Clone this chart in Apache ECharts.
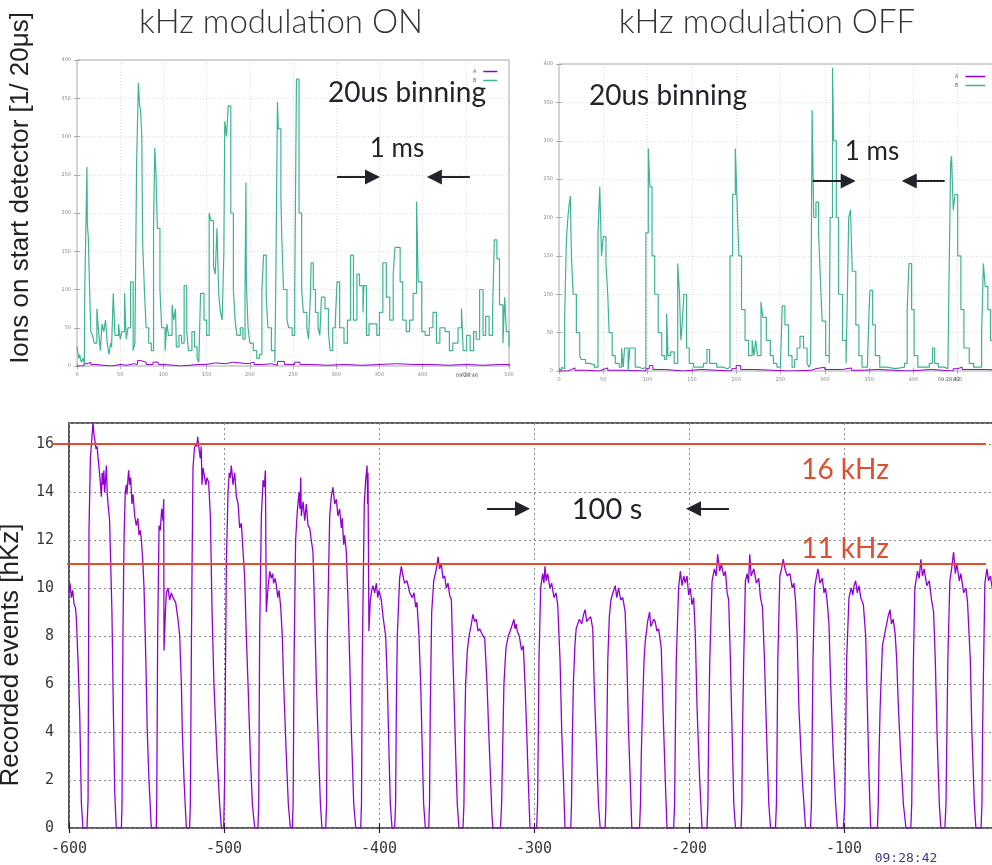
<!DOCTYPE html>
<html><head><meta charset="utf-8">
<script src="https://cdn.jsdelivr.net/npm/echarts@6.0.0/dist/echarts.min.js"></script>
<style>html,body{margin:0;padding:0;background:#fff}#c{width:992px;height:865px}</style>
</head><body><div id="c"></div>
<script>
// ---------- DATA ----------
// Top plots: x = bin number (20 us bins), y = ions per bin
const topLeftA = [[0,0],[8,3],[12,5],[16,2],[22,1],[30,0],[40,2],[50,1],[58,3],[66,2],[70,7],[74,5],[80,2],[88,5],[94,2],[100,1],[112,0],[120,2],[140,2],[150,4],[160,3],[172,5],[180,3],[198,5],[205,2],[215,3],[225,1],[232,6],[240,2],[252,5],[258,2],[270,1],[290,2],[310,1],[330,2],[350,3],[370,2],[390,2],[410,1],[430,2],[450,1],[470,2],[490,2],[500,0]];
const topLeftB = [[0,25],[2,10],[3,15],[5,5],[7,10],[8.5,3],[9,100],[10,165],[11.5,260],[12,185],[13,170],[14.6,100],[16,45],[18,40],[20,30],[23,75],[25,45],[27,20],[29,55],[31,45],[33,60],[35,30],[37,15],[39,30],[40,25],[42,95],[44,40],[48,55],[50,35],[52,45],[55,95],[57,35],[59,50],[62,110],[65,20],[67,30],[69,265],[71,370],[72.5,340],[73.5,335],[75,300],[76,160],[78,100],[80,50],[83,30],[86,20],[88.6,180],[90,285],[91.5,250],[93,180],[96,100],[98,50],[102,20],[104,55],[106,40],[110,80],[112,60],[114,75],[115,25],[118,40],[121,30],[124,105],[127,45],[129,20],[133,45],[136,25],[139,10],[141,5],[143,95],[147,60],[150,40],[153,200],[155,190],[158,130],[160,120],[162,180],[164,95],[166,70],[168,60],[170,150],[171,320],[173,300],[175,340],[178,200],[181,100],[183,60],[185,40],[189,50],[192,35],[194.5,110],[195.5,240],[196,110],[198,50],[200,30],[204,20],[208,10],[211,15],[214,100],[216,145],[219,90],[221,50],[225,20],[229,5],[230,100],[232,345],[233,310],[236,220],[237,170],[239,100],[243,60],[245,50],[249,40],[252,100],[254,375],[257,200],[260,100],[262,70],[266,50],[268,35],[270,90],[271,135],[273.5,100],[276,70],[279,50],[281,40],[283,90],[287,75],[291,45],[293,20],[296,50],[299,60],[301,110],[304,50],[309,30],[313,60],[316.6,145],[320,60],[324,120],[327,105],[331,70],[332,105],[335,40],[338,55],[343,55],[347,40],[350,70],[354,135],[358,90],[362,60],[366,120],[368,155],[374,110],[377,60],[381,45],[385,60],[389,95],[393,215],[395,110],[399,45],[403,40],[408,50],[412,70],[416,30],[420,50],[426,45],[431,20],[435,30],[441,50],[445,75],[447,20],[451,40],[455,20],[459,45],[462,35],[466,100],[470,40],[473,65],[477,40],[481,70],[483,165],[486,140],[489,80],[493,30],[495,90],[497,45],[500,25]];
const topRightA = [[0,0],[10,2],[14,4],[18,1],[30,0],[45,2],[50,4],[55,1],[70,0],[98,3],[102,7],[106,2],[120,0],[140,2],[160,0],[195,3],[200,7],[205,2],[220,0],[260,1],[285,3],[290,5],[300,2],[320,4],[330,1],[345,2],[360,0],[395,2],[420,0],[445,3],[450,5],[455,2],[480,1],[500,0]];
const topRightB = [[0,2],[3,5],[5,3],[6.4,70],[8.3,170],[10,200],[11.3,215],[12.8,228],[14,150],[16,100],[19.6,50],[23.4,20],[25,15],[30,10],[35,8],[40,5],[44,180],[46,240],[48,150],[50,175],[53,140],[55,100],[56.6,50],[60,20],[63.5,10],[68,5],[70.6,30],[72.5,5],[74,30],[76,30],[78,0],[80,30],[82,30],[86,5],[90,3],[95,5],[98,180],[100.8,290],[102.6,240],[105,150],[108,100],[112,50],[116,20],[119,15],[121.5,75],[123,20],[126,25],[130,10],[134,140],[136,100],[137.5,40],[139,60],[141,100],[144,30],[147,10],[152,5],[159,5],[163,10],[167,28],[170,10],[178,5],[185,3],[190,5],[193,150],[196,230],[199,290],[201,220],[203,150],[206,80],[210,40],[214,20],[218,40],[220,20],[222,40],[224,20],[228,90],[230,70],[234,40],[238.5,20],[242,10],[246,5],[250,10],[252,85],[255,60],[259,20],[263,5],[266,15],[268.7,30],[272,45],[276,30],[280,10],[282,5],[284,10],[285.7,340],[287.5,200],[290,220],[293,180],[295,120],[297,65],[301,20],[305,10],[306,200],[308.7,395],[310,300],[313,200],[315.5,100],[320,40],[324,10],[325.5,100],[327,200],[329,210],[331,130],[335,60],[338.5,20],[342,5],[348,5],[350,80],[351,105],[354,60],[357,20],[362,5],[370,3],[380,5],[390,10],[393,80],[395,140],[398,80],[400.8,20],[405,5],[413,5],[418,10],[421.5,30],[424,10],[428,5],[435,3],[439,10],[440,100],[442,270],[443,280],[445,210],[447,230],[450,150],[453.6,80],[457,30],[463,10],[468,5],[474,5],[477,50],[479,140],[481,110],[484,80],[487,40],[490,20],[495,15],[500,10]];

// Bottom plot: x = time [s], y = recorded events
const recordedEvents = [
[-600,9.8],[-599.3,10.2],[-598.5,9.6],[-597.6,9.9],[-596.7,9.3],[-595.9,9.2],[-595.3,8.8],[-594.2,7],[-593.1,4.8],[-592,1],[-591,0],[-588.4,0],
[-587.7,1.2],[-587.1,12.4],[-586.2,15.4],[-585.3,16.2],[-584.5,16.9],[-583.9,16.4],[-583.4,16.2],[-582.6,15.8],[-581.9,15.9],[-581.2,15.4],[-580.6,15],[-579.8,14.4],[-579.1,13.8],[-578.6,14.8],[-578.1,14.3],[-577.5,14.9],[-577,14],[-576.4,14.5],[-575.9,15.1],[-575.3,13.9],[-574.8,13.5],[-573.8,12.8],[-573.1,11],[-572.3,9],[-571.4,5],[-570.5,1.5],[-569.5,0],[-566.2,0],
[-565.8,1],[-565.2,8],[-564.5,12],[-563.7,14],[-563,14.3],[-562.6,13.9],[-561.9,14.6],[-561.5,14.9],[-560.9,14.3],[-560.2,14.6],[-559.4,13.5],[-558.7,13.9],[-557.6,13],[-556.6,12.6],[-555.6,12.9],[-554.8,12.2],[-554,12.4],[-553.3,12],[-552.3,11],[-551.6,10],[-550.8,8],[-550.1,6],[-549.5,4],[-548.4,2],[-546.9,0],[-543.7,0],
[-543.4,1],[-542.8,8],[-541.9,12.6],[-541.1,12.4],[-540.2,13.3],[-539.4,12.8],[-538.9,13.7],[-538.7,7.4],[-537.8,9],[-537.2,9.8],[-536.1,10],[-535.1,9.5],[-534,9.8],[-532.9,9.6],[-531.2,9.4],[-529.7,8.7],[-528.6,8],[-527.5,6],[-526.9,4],[-525.8,2],[-524.3,0],[-522.2,0],
[-521.7,1],[-521.1,7],[-520.6,11],[-520,15],[-519.1,15.8],[-518.3,16],[-517.5,15.9],[-517,16.3],[-516.1,15.8],[-515.3,15.4],[-514.7,15.9],[-514.2,14.3],[-513.5,15],[-512.5,14.6],[-511.7,14.3],[-511,14.6],[-509.9,14.4],[-508.8,13],[-507.7,9],[-506.5,6],[-504.5,3],[-502.8,1],[-501.7,0],[-500.2,0],
[-499.6,2],[-498.5,11],[-497.4,14],[-496.6,14.8],[-495.9,14.6],[-495.3,15.1],[-494.8,14.8],[-494.2,14.3],[-493.1,14.8],[-492,13.8],[-490.9,13.5],[-489.9,12.5],[-488.8,12.7],[-487.7,11.5],[-486.7,10.5],[-485.6,8],[-484.5,6],[-483,3],[-481.7,1],[-480.2,0],[-478.1,0],
[-477.6,1],[-477,8],[-475.9,13],[-474.8,14.5],[-474,14.2],[-473.3,14.9],[-472.7,9],[-471.6,10],[-470.5,10.7],[-469.5,10.4],[-468.6,10.6],[-468,10.2],[-467,10.4],[-466.2,10.1],[-465.3,9.6],[-464.5,9.9],[-463.4,9.2],[-462.4,8],[-461.5,6],[-459.8,3],[-458.5,1],[-457.2,0],[-455.9,0],
[-455.4,1],[-454.8,7],[-453.8,12],[-452.7,13.2],[-451.6,14],[-451,13.3],[-450.5,14.6],[-450.1,13],[-449,13.6],[-447.9,12.8],[-446.9,13.5],[-445.8,12.6],[-444.7,12.5],[-443.7,12],[-442.6,11.5],[-441.5,9],[-440.4,6],[-438.9,3],[-437.8,1],[-436.8,0],[-434.4,0],
[-433.8,1],[-433.3,8],[-431.8,13],[-430.8,13.8],[-429.7,14.2],[-428.6,13.5],[-427.5,13.7],[-426.5,13],[-425.4,13.3],[-424.3,12.5],[-423.7,12.9],[-422.8,11.8],[-422.2,12.2],[-421.1,11.5],[-420,9.5],[-418.9,7],[-417.8,4],[-416.3,1],[-415,0],[-411.8,0],
[-411.3,1],[-410.8,7],[-409.5,13.5],[-408.6,14.5],[-407.7,15.1],[-407.3,13.5],[-407.1,14.8],[-406.5,8.2],[-405.6,9.5],[-404.7,9.9],[-403.9,10.1],[-402.8,9.8],[-401.7,10.2],[-400.8,9.6],[-400,9.9],[-398.5,9.5],[-397.4,8.8],[-395.7,8],[-394.6,6],[-393.5,3],[-392.7,1],[-391.6,0],[-389.9,0],
[-389.3,1],[-388.8,5],[-388.2,8],[-386.7,10.4],[-385.6,10.9],[-384.5,10.5],[-383.5,10.2],[-381.9,10.3],[-380.2,9.8],[-378.5,9.6],[-377.4,9.8],[-376.3,9.2],[-375.5,9.4],[-374.2,8],[-373.1,6],[-372,3],[-371.2,1],[-370.1,0],[-367.9,0],
[-367.4,1],[-366.9,5],[-366,9],[-364.7,10.3],[-363,10.8],[-361.9,11.3],[-360.9,10.8],[-359.8,11],[-358.7,10.4],[-357.6,10.5],[-356.6,10],[-355.5,10.2],[-354.4,9.7],[-353.3,9.5],[-352.7,8],[-351.8,6],[-350.5,3],[-349.5,1],[-348.4,0],[-345.8,0],
[-345.2,1],[-344.7,4],[-344.1,6],[-343,7.4],[-341.9,8],[-340.4,8.5],[-339.4,8.9],[-338.3,8.6],[-337.2,8.7],[-336.1,8.2],[-335.1,8.3],[-332.9,8],[-331.8,7.9],[-330.3,6],[-329.2,4],[-328,2],[-327.1,0.5],[-326.5,0],[-321.6,0],
[-320.9,1],[-320.3,3],[-319.4,6],[-318.1,7.5],[-316.6,8],[-315.4,8.2],[-314.4,8.4],[-312.9,8.7],[-312.3,8.3],[-311.5,8.5],[-310.8,8.2],[-309.5,8],[-308,7.4],[-306.9,7.6],[-305.8,6],[-304.7,4],[-303.7,2],[-302.6,0],[-298.3,0],
[-297.7,1],[-297.2,4],[-296.8,7],[-295.7,10],[-294.4,10.6],[-293.6,10.2],[-292.9,10.9],[-292.2,10.3],[-291.2,10.6],[-289.7,10],[-288.6,10.2],[-287.1,9.6],[-285.8,9.8],[-284.7,9.3],[-283.2,7],[-282.1,4],[-281,2],[-280,0],[-276.3,0],
[-275.8,1],[-275.2,4],[-274.6,6],[-273.6,7.6],[-272.8,8.3],[-271.8,8.5],[-270.7,8.7],[-269.2,8.5],[-268,8.9],[-267,9.1],[-266,8.6],[-264.9,8.7],[-263.4,8.8],[-262.1,8.3],[-261.2,6],[-259.5,3],[-258.4,1],[-257.3,0],[-254.1,0],
[-253.6,1],[-253,4],[-252.4,7],[-251.4,8.8],[-250.4,9.5],[-249.1,9.8],[-247.6,10.1],[-246.6,9.6],[-245.5,10],[-244,9.5],[-242.7,9.6],[-241.2,9],[-240.1,7],[-239,4],[-237.9,2],[-236.9,0],[-231.9,0],
[-231.3,1],[-230.8,3],[-230,5],[-229,7],[-228.2,7.8],[-227.4,8.2],[-226.7,8.6],[-225.4,9],[-224.7,8.4],[-223.9,8.5],[-222.8,8.7],[-221.8,8.6],[-220.7,8.2],[-219.6,8.3],[-217.9,7.5],[-216.8,5],[-215.3,2],[-214.2,0],[-209.9,0],
[-209.3,1],[-208.8,4],[-208.2,7],[-206.7,10],[-205.6,10.7],[-204.5,10.1],[-203.4,10.5],[-202.4,10.2],[-201.3,10.5],[-200.2,9.7],[-199.1,10],[-198.1,9.3],[-197,9.6],[-195.9,8],[-194.8,5],[-193.1,2],[-191.6,0],[-188.4,0],
[-187.8,1],[-187.3,4],[-186.6,7],[-185.1,10.3],[-183.6,10.8],[-182.5,10.5],[-181.5,11.4],[-180.2,10.7],[-179.1,11],[-177.6,10.5],[-176.5,10.7],[-175.4,9.8],[-174.4,9.5],[-173.3,7],[-172.2,4],[-171.1,1],[-170,0],[-166.4,0],
[-165.9,1],[-165.5,4],[-164.7,7],[-163.6,10.3],[-162.5,10.6],[-161.6,10.2],[-160.8,11.4],[-159.9,10.5],[-158.2,10.8],[-156.5,10.2],[-155,10.4],[-153.9,9.6],[-152.6,9.2],[-151.3,7],[-150,4],[-148.5,1],[-147.4,0],[-144.2,0],
[-143.6,1],[-143.1,4],[-142.7,7],[-141.4,10.5],[-140.3,10.8],[-139.2,11.2],[-138.1,10.8],[-136.6,10.5],[-134.9,10.6],[-133.4,10],[-132.3,10.2],[-131.3,9.5],[-130.2,8],[-129.1,5],[-126.9,2],[-124.8,0],[-121.6,0],
[-121,1],[-120.5,4],[-120,7],[-119,10],[-117.7,10.5],[-116.8,10.8],[-115.5,10.2],[-114,10.4],[-112.9,9.8],[-111.9,10],[-110.8,9.4],[-109.7,8.5],[-108.6,6],[-106.9,3],[-105.4,1],[-104.3,0],[-100.4,0],
[-99.5,1],[-98.9,4],[-98.3,7],[-96.8,9.6],[-95.3,10],[-94.3,9.7],[-93.5,10.1],[-92.5,10.3],[-91.4,9.8],[-90.3,10.1],[-89.2,9.6],[-87.5,9.3],[-86,8],[-84.9,5],[-83.8,2],[-82.8,0],[-78.4,0],
[-77.9,1],[-77.4,3],[-76.7,5],[-75.2,7.6],[-73.1,8.3],[-71.6,8.8],[-70.3,9.1],[-69.4,8.5],[-68.3,8.7],[-67,8.1],[-66,7],[-64.9,5],[-63.4,3],[-61.7,1],[-60,0],[-56.9,0],
[-56.3,1],[-55.8,4],[-55.2,7],[-54.3,10],[-52.6,10.7],[-51.5,10.4],[-50.4,11.2],[-49.4,10.5],[-48.3,10.8],[-46.6,10.1],[-45,10.3],[-43.5,9.5],[-42.2,9],[-41.1,7],[-40,4],[-38.5,1],[-37.5,0],[-34.9,0],
[-34.2,1],[-33.6,4],[-33,7],[-31.7,10.3],[-30.6,10.8],[-29.3,11.5],[-28.2,10.6],[-27.2,11],[-25.6,10.3],[-24.6,10.6],[-22.8,9.8],[-21.3,10],[-20.3,9.4],[-18.5,7],[-17.5,4],[-15.9,1],[-14.9,0],[-11.6,0],
[-11,1],[-10.6,4],[-9.9,7],[-9.1,10.2],[-7.8,10.8],[-6.7,10.3],[-5.6,10.5],[-4.1,9.9],[-3,9.6],[-1.7,9.8],[0,9.5]
];
// Reference levels (kHz): the lines reach a little past the plot frame on the left
const levelsRange = {min:-611, max:-8.4};
const level16 = [[-611,16],[-8.4,16]];
const level11 = [[-601.3,11],[-8.4,11]];
// Annotation arrows [start, tip-side end]
const arrowsTopLeft = [[[301,247],[342,247]],[[454.7,247],[413.6,247]]];
const arrowsTopRight = [[[286.3,247.5],[326.4,247.5]],[[435.3,247.5],[395.3,247.5]]];
const arrowsBottom = [[[-330.3,13.3],[-307.4,13.3]],[[-174.2,13.3],[-197.1,13.3]]];
// Axis ranges / ticks
const topX = {min:0, max:500, interval:50};
const topY = {min:0, max:400, interval:50};
const botX = {min:-600, max:0, interval:100};
const botY = {min:0, max:16.875, interval:2};

// ---------- CHART ----------
const chart = echarts.init(document.getElementById('c'), null, {renderer:'canvas'});
const GREEN = '#3db492', PURPLE = '#9400d3', RED = '#e14d2e', INK = '#23232b';

function smallAxis(gi, r, pos, labels){
  return {type:'value', gridIndex:gi, position:pos, min:r.min, max:r.max, interval:r.interval,
    axisLine:{show:false},
    axisTick:{show:true, inside:true, length:3, lineStyle:{color:'#999', width:0.8}},
    axisLabel:{show:labels, fontSize:5, color:'#888', margin:6, fontFamily:'DejaVu Sans'},
    splitLine:{show:labels, lineStyle:{color:'#d4d4d4', type:[1,2], width:0.8}}
  };
}
function bigAxis(gi, r, pos, labels, isX){
  return {type:'value', gridIndex:gi, position:pos, min:r.min, max:r.max, interval:r.interval,
    axisLine:{show:false},
    axisTick:{show:true, inside:true, length:5, lineStyle:{color:'#222', width:1.2}},
    axisLabel:{show:labels, fontSize:15, color:'#3a3a3a', fontFamily:'DejaVu Sans Mono', margin: isX ? 14 : 15, showMaxLabel: !!isX},
    splitLine:{show:labels, lineStyle:{color:'#8a8a8a', type:[2,3], width:1}}
  };
}
function hiddenAxis(gi, r){
  return {type:'value', gridIndex:gi, min:r.min, max:r.max, show:false,
    axisLine:{show:false}, axisTick:{show:false}, axisLabel:{show:false}, splitLine:{show:false}};
}
function arrowMark(list){
  return {silent:true, symbol:['none','triangle'], symbolSize:15, animation:false,
    label:{show:false}, lineStyle:{color:INK, width:2, type:'solid'}, itemStyle:{color:INK},
    emphasis:{disabled:true},
    data:list.map(a=>[{coord:a[0]},{coord:a[1]}])};
}
function T(x,y,text,font,fill,extra){
  return Object.assign({type:'text', x:x, y:y, silent:true, z:50,
    style:{text:text, font:font, fill:fill, align:'center', verticalAlign:'middle', textAlign:'center', textVerticalAlign:'middle'}}, extra||{});
}
const G = {outerBoundsMode:'none', containLabel:false};

const option = {
  animation:false,
  backgroundColor:'#ffffff',
  grid:[
    Object.assign({left:77, top:60, width:432, height:306, show:true, borderColor:'#a8a8a8', borderWidth:1, backgroundColor:'#fff'}, G),
    Object.assign({left:559, top:64, width:443, height:307, show:true, borderColor:'#a8a8a8', borderWidth:1, backgroundColor:'#fff'}, G),
    Object.assign({left:69, top:423, width:930, height:405, show:true, borderColor:'#2a2a2a', borderWidth:1.6, backgroundColor:'#fff'}, G),
    Object.assign({left:52, top:423, width:934, height:405, show:false}, G)
  ],
  xAxis:[
    smallAxis(0, topX, 'bottom', true),
    smallAxis(1, topX, 'bottom', true),
    bigAxis(2, botX, 'bottom', true, true),
    smallAxis(0, topX, 'top', false),
    smallAxis(1, topX, 'top', false),
    bigAxis(2, botX, 'top', false, true),
    hiddenAxis(3, levelsRange)
  ],
  yAxis:[
    smallAxis(0, topY, 'left', true),
    smallAxis(1, topY, 'left', true),
    bigAxis(2, botY, 'left', true, false),
    smallAxis(0, topY, 'right', false),
    smallAxis(1, topY, 'right', false),
    bigAxis(2, botY, 'right', false, false),
    hiddenAxis(3, botY)
  ],
  legend:[
    {data:['A','B'], left:468, top:64, orient:'vertical', itemWidth:14, itemHeight:1.5, itemGap:4, align:'right', icon:'rect', selectedMode:false, textStyle:{fontSize:5, color:'#666', padding:[0,2,0,0]}},
    {data:['A','B'], left:950, top:69, orient:'vertical', itemWidth:20, itemHeight:1.5, itemGap:4, align:'right', icon:'rect', selectedMode:false, textStyle:{fontSize:5, color:'#666', padding:[0,2,0,0]}}
  ],
  series:[
    {name:'A', type:'line', xAxisIndex:0, yAxisIndex:0, data:topLeftA, step:'end', symbol:'none', lineStyle:{color:PURPLE, width:1}, itemStyle:{color:PURPLE}, z:2},
    {name:'B', type:'line', xAxisIndex:0, yAxisIndex:0, data:topLeftB, step:'end', symbol:'none', lineStyle:{color:GREEN, width:1.2}, itemStyle:{color:GREEN}, z:3, markLine:arrowMark(arrowsTopLeft)},
    {name:'A', type:'line', xAxisIndex:1, yAxisIndex:1, data:topRightA, step:'end', symbol:'none', lineStyle:{color:PURPLE, width:1}, itemStyle:{color:PURPLE}, z:2},
    {name:'B', type:'line', xAxisIndex:1, yAxisIndex:1, data:topRightB, step:'end', symbol:'none', lineStyle:{color:GREEN, width:1.2}, itemStyle:{color:GREEN}, z:3, markLine:arrowMark(arrowsTopRight)},
    {name:'events', type:'line', xAxisIndex:2, yAxisIndex:2, data:recordedEvents, symbol:'none', lineStyle:{color:PURPLE, width:1.3}, itemStyle:{color:PURPLE}, z:3, markLine:arrowMark(arrowsBottom)},
    {name:'16 kHz', type:'line', xAxisIndex:6, yAxisIndex:6, data:level16, symbol:'none', lineStyle:{color:RED, width:2}, z:6},
    {name:'11 kHz', type:'line', xAxisIndex:6, yAxisIndex:6, data:level11, symbol:'none', lineStyle:{color:RED, width:2}, z:6}
  ],
  graphic:[
    T(281, 22, 'kHz modulation ON', '300 33px Lato', '#333'),
    T(767, 22, 'kHz modulation OFF', '300 33px Lato', '#333'),
    T(407, 93, '20us binning', '28px Lato', INK),
    T(668, 96, '20us binning', '28px Lato', INK),
    T(397, 149, '1 ms', '26px Lato', INK),
    T(872, 152, '1 ms', '26px Lato', INK),
    T(607, 510, '100 s', '29px Lato', INK),
    T(845, 470, '16 kHz', '28px Lato', RED),
    T(845, 549, '11 kHz', '28px Lato', RED),
    T(21, 188, 'Ions on start detector [1/ 20μs]', '26px "Liberation Sans"', '#222', {rotation:Math.PI/2}),
    T(11, 655, 'Recorded events [hKz]', '26px "Liberation Sans"', '#222', {rotation:Math.PI/2}),
    T(906, 859, '09:28:42', '13px "DejaVu Sans Mono"', '#3c3c80'),
    T(467, 376, '09:28:46', '5px "DejaVu Sans"', '#556'),
    T(949, 380, '09:28:42', '5px "DejaVu Sans"', '#556')
  ]
};
chart.setOption(option);
</script></body></html>
